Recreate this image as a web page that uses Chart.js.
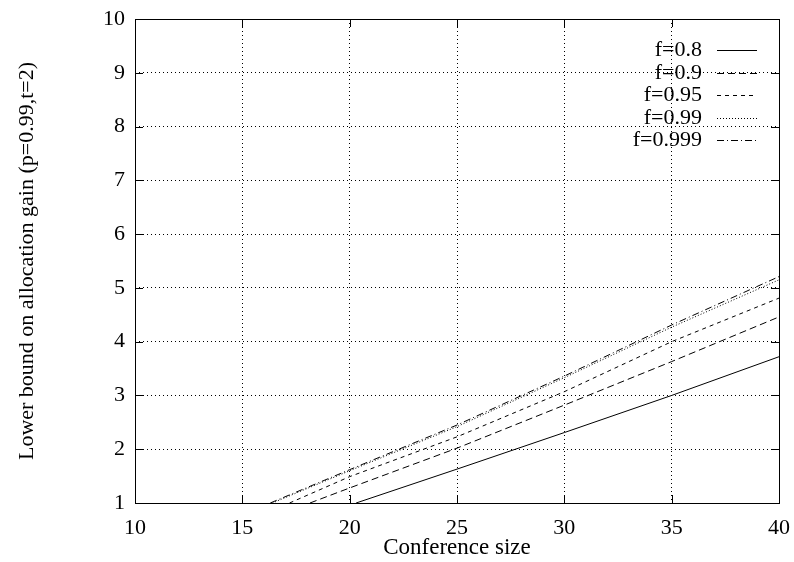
<!DOCTYPE html>
<html>
<head>
<meta charset="utf-8">
<script src="https://cdn.jsdelivr.net/npm/chart.js@4.4.0/dist/chart.umd.min.js"></script>
<style>
  html, body { margin: 0; padding: 0; background: #fff; }
  #wrap { width: 794px; height: 562px; }
</style>
</head>
<body>
<div id="wrap"><canvas id="gainChart"></canvas></div>
<script>
// valeurs
const seriesLabels = ['f=0.8', 'f=0.9', 'f=0.95', 'f=0.99', 'f=0.999'];

const size08 = [20.3, 25, 30, 35, 40];
const gain08 = [1, 1.63, 2.31, 3.0, 3.72];

const size09 = [18.15, 20, 25, 30, 35, 40];
const gain09 = [1, 1.28, 2.02, 2.82, 3.63, 4.46];

const size095 = [17.2, 20, 25, 30, 35, 40];
const gain095 = [1, 1.49, 2.23, 3.07, 4.0, 4.81];

const size099 = [16.4, 20, 25, 30, 35, 40];
const gain099 = [1, 1.6, 2.42, 3.33, 4.27, 5.15];

const size0999 = [16.3, 20, 25, 30, 35, 40];
const gain0999 = [1, 1.62, 2.45, 3.36, 4.31, 5.21];

const xTicks = [10, 15, 20, 25, 30, 35, 40];
const yTicks = [1, 2, 3, 4, 5, 6, 7, 8, 9, 10];

const FONT = 'Liberation Serif';
const dashes = [[], [7, 4], [4, 4], [1, 2], [7, 3, 1, 3]];

function toPoints(xs, ys) {
  return xs.map((x, i) => ({ x: x, y: ys[i] }));
}

const allSeries = [
  toPoints(size08, gain08),
  toPoints(size09, gain09),
  toPoints(size095, gain095),
  toPoints(size099, gain099),
  toPoints(size0999, gain0999)
];

// cadre + graduations vers l'intérieur (style gnuplot)
const framePlugin = {
  id: 'frame',
  afterDraw(chart) {
    const { ctx, chartArea: a, scales } = chart;
    ctx.save();
    ctx.strokeStyle = '#000';
    ctx.lineWidth = 1;
    ctx.setLineDash([]);
    ctx.beginPath();
    const tl = 8;
    for (const v of xTicks) {
      const px = Math.round(scales.x.getPixelForValue(v)) + 0.5;
      ctx.moveTo(px, a.bottom); ctx.lineTo(px, a.bottom - tl);
      ctx.moveTo(px, a.top); ctx.lineTo(px, a.top + tl);
    }
    for (const v of yTicks) {
      const py = Math.round(scales.y.getPixelForValue(v)) + 0.5;
      ctx.moveTo(a.left, py); ctx.lineTo(a.left + tl, py);
      ctx.moveTo(a.right, py); ctx.lineTo(a.right - tl, py);
    }
    ctx.stroke();
    ctx.strokeRect(Math.round(a.left) + 0.5, Math.round(a.top) + 0.5,
      Math.round(a.right - a.left), Math.round(a.bottom - a.top));
    ctx.restore();
  }
};

// légende en haut à droite, texte aligné à droite puis échantillon du trait
const legendPlugin = {
  id: 'keyBox',
  afterDraw(chart) {
    const { ctx, chartArea: a } = chart;
    ctx.save();
    ctx.font = '22px "' + FONT + '"';
    ctx.textAlign = 'right';
    ctx.textBaseline = 'middle';
    ctx.fillStyle = '#000';
    chart.data.datasets.forEach((ds, i) => {
      const y = Math.round(a.top + 31 + i * 22.5) + 0.5;
      ctx.fillText(ds.label, a.right - 77, y);
      ctx.beginPath();
      ctx.setLineDash(ds.borderDash);
      ctx.lineWidth = 1;
      ctx.strokeStyle = '#000';
      ctx.moveTo(a.right - 62, y);
      ctx.lineTo(a.right - 22, y);
      ctx.stroke();
    });
    ctx.restore();
  }
};

const ctx = document.getElementById('gainChart').getContext('2d');
const gainChart = new Chart(ctx, {
  type: 'line',
  data: {
    datasets: allSeries.map((pts, i) => ({
      label: seriesLabels[i],
      data: pts,
      borderColor: '#000',
      borderWidth: 1,
      borderDash: dashes[i],
      pointRadius: 0,
      fill: false,
      tension: 0
    }))
  },
  options: {
    responsive: true,
    maintainAspectRatio: false,
    animation: false,
    layout: { padding: { top: 19, right: 15, left: 0, bottom: 0 } },
    plugins: {
      legend: { display: false },
      tooltip: { enabled: false }
    },
    scales: {
      x: {
        type: 'linear',
        min: 10,
        max: 40,
        afterBuildTicks: s => { s.ticks = xTicks.map(v => ({ value: v })); },
        afterFit: s => { s.height = 59; s.paddingLeft = 0; s.paddingRight = 0; },
        ticks: { color: '#000', padding: 12, font: { family: FONT, size: 22 } },
        grid: { color: '#000', lineWidth: 1, drawTicks: false },
        border: { display: false, dash: [1, 3] },
        title: {
          display: true,
          text: 'Conference size',
          color: '#000',
          font: { family: FONT, size: 23 },
          padding: { top: 0, bottom: 0 }
        }
      },
      y: {
        type: 'linear',
        min: 1,
        max: 10,
        afterBuildTicks: s => { s.ticks = yTicks.map(v => ({ value: v })); },
        afterFit: s => { s.width = 135; s.paddingTop = 0; s.paddingBottom = 0; },
        ticks: { color: '#000', padding: 10, font: { family: FONT, size: 22 } },
        grid: { color: '#000', lineWidth: 1, drawTicks: false },
        border: { display: false, dash: [1, 3] },
        title: {
          display: true,
          text: 'Lower bound on allocation gain (p=0.99,t=2)',
          color: '#000',
          font: { family: FONT, size: 22 },
          padding: { top: 14, bottom: 0 }
        }
      }
    }
  },
  plugins: [framePlugin, legendPlugin]
});
</script>
</body>
</html>
